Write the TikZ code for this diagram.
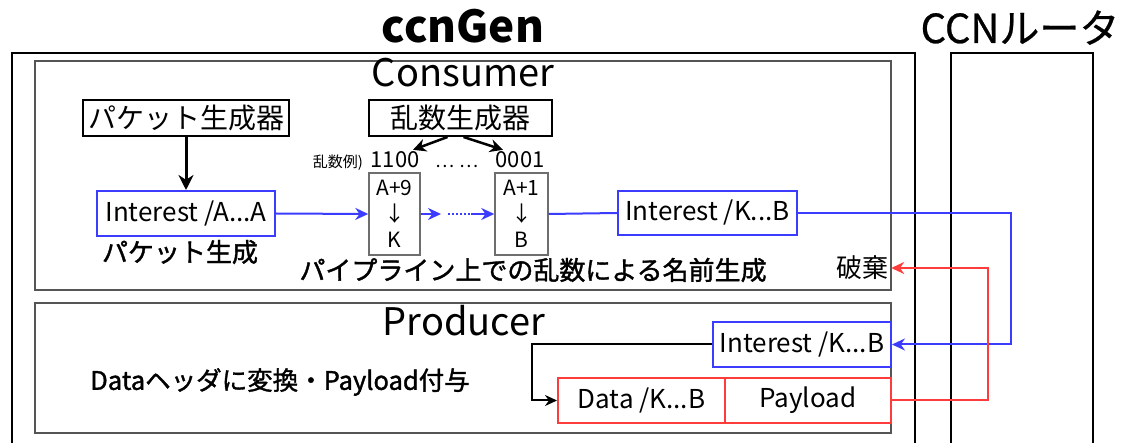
\documentclass[tikz,border=0pt]{standalone}
\usepackage{fontspec}
\setmainfont{Noto Sans CJK JP}
\newfontfamily\medfont[FakeBold=1.4]{Noto Sans CJK JP}
\newfontfamily\semifont[FakeBold=0.6]{Noto Sans CJK JP}
\usetikzlibrary{arrows.meta,calc}
\definecolor{myblue}{RGB}{60,60,255}
\definecolor{myred}{RGB}{255,60,60}
\definecolor{framegray}{RGB}{85,85,85}
\definecolor{boxgray}{RGB}{110,110,110}
\begin{document}
\begin{tikzpicture}[x=1pt,y=-1pt,
  fs/.style={font=\fontsize{#1}{#1}\selectfont},
  fsb/.style={font=\fontsize{#1}{#1}\selectfont\bfseries},
  fsm/.style={font=\fontsize{#1}{#1}\selectfont\medfont},
  blackbox/.style={draw=black, line width=2pt, inner sep=0pt, fs=28},
  bluebox/.style={draw=myblue, line width=2pt, inner sep=0pt, fs=26},
  redbox/.style={draw=myred, line width=2pt, inner sep=0pt, fs=26},
  graybox/.style={draw=boxgray, line width=1.5pt, inner sep=0pt, align=center, font=\fontsize{21}{26}\selectfont},
  bl/.style={draw=myblue, line width=2pt},
  rl/.style={draw=myred, line width=2pt},
  tip/.style={-{Stealth[length=13pt,width=12pt]}},
  bigtip/.style={-{Stealth[length=15pt,width=15pt]}}
]
\useasboundingbox (0,0) rectangle (1122,443);
\fill[white] (0,0) rectangle (1122,443);

% titles
\node[anchor=base, fsb=44] (title) at (463,43) {ccnGen};
\node[anchor=base, font=\fontsize{40}{40}\selectfont\semifont] (router) at (1020,43) {CCNルータ};

% outer frames
\draw[line width=2pt] (12,460) -- (12,53) -- (915,53) -- (915,460);
\draw[line width=2pt] (951,460) -- (951,53) -- (1093,53) -- (1093,460);

% consumer / producer frames
\draw[framegray, line width=1.3pt] (35,61) rectangle (891,290);
\draw[framegray, line width=1.3pt] (35,303) rectangle (891,433);
\node[anchor=base, fs=38] (consumer) at (463,87) {Consumer};
\node[anchor=base, fs=38] (producer) at (464,336) {Producer};

% consumer contents
\node[blackbox, minimum width=206, minimum height=36] (pg) at (186,118) {パケット生成器};
\node[blackbox, minimum width=183, minimum height=36] (rg) at (460.5,118) {乱数生成器};
\node[bluebox, minimum width=178, minimum height=45] (intA) at (186,213.5) {Interest /A...A};
\node[fsm=26] (pkt) at (180,252) {パケット生成};

\node[anchor=base, fs=15] (ex) at (338,168) {乱数例)};
\node[anchor=base, fs=22, inner sep=2pt] (t1100) at (395,168) {1100};
\node[anchor=base, fs=18] (tdots) at (457,168) {… …};
\node[anchor=base, fs=22, inner sep=2pt] (t0001) at (520,168) {0001};

\node[graybox, minimum width=51, minimum height=82] (a9) at (394.5,214) {A+9\\↓\\K};
\node[graybox, minimum width=53, minimum height=82] (a1) at (521.5,214) {A+1\\↓\\B};

\node[bluebox, minimum width=179, minimum height=44] (intK) at (707.5,213) {Interest /K...B};
\node[fsm=26] (pipe) at (533,270) {パイプライン上での乱数による名前生成};
\node[fs=26, inner sep=3pt] (discard) at (862,268) {破棄};

% producer contents
\node[fsm=25.5] (conv) at (280,382) {Dataヘッダに変換・Payload付与};
\node[bluebox, minimum width=178, minimum height=45] (intK2) at (802,344.5) {Interest /K...B};
\node[redbox, minimum width=167, minimum height=45] (data) at (641.5,400.5) {Data /K...B};
\node[redbox, minimum width=166, minimum height=45] (pay) at (808,400.5) {Payload};

% connectors
\draw[line width=3pt, bigtip] (pg.south) -- (intA.north);
\draw[line width=2.5pt, -{Stealth[length=13pt,width=13pt]}] ([xshift=-13pt]rg.south) -- ([xshift=18pt]t1100.north);
\draw[line width=2.5pt, -{Stealth[length=13pt,width=13pt]}] ([xshift=3pt]rg.south) -- ([xshift=-17pt]t0001.north);

\coordinate (dA) at (441,214);
\coordinate (dB) at (448,214);
\coordinate (dC) at (471,214);
\draw[bl, tip] (intA.east) -- (a9.west);
\draw[bl, tip] (a9.east) -- (dA);
\draw[myblue, line width=2pt, dotted] (dB) -- (dC);
\draw[bl, tip] (dC) -- (a1.west);
\draw[bl] (a1.east) -- (intK.west);
\draw[bl, tip] (intK.east) -- ++(213,0) |- (intK2.east);

\draw[rl, tip] (pay.east) -- ++(96,0) |- (discard.east);
\draw[line width=2pt, -{Stealth[length=12pt,width=11pt]}] (intK2.west) -- ++(-180,0) |- (data.west);
\end{tikzpicture}
\end{document}
